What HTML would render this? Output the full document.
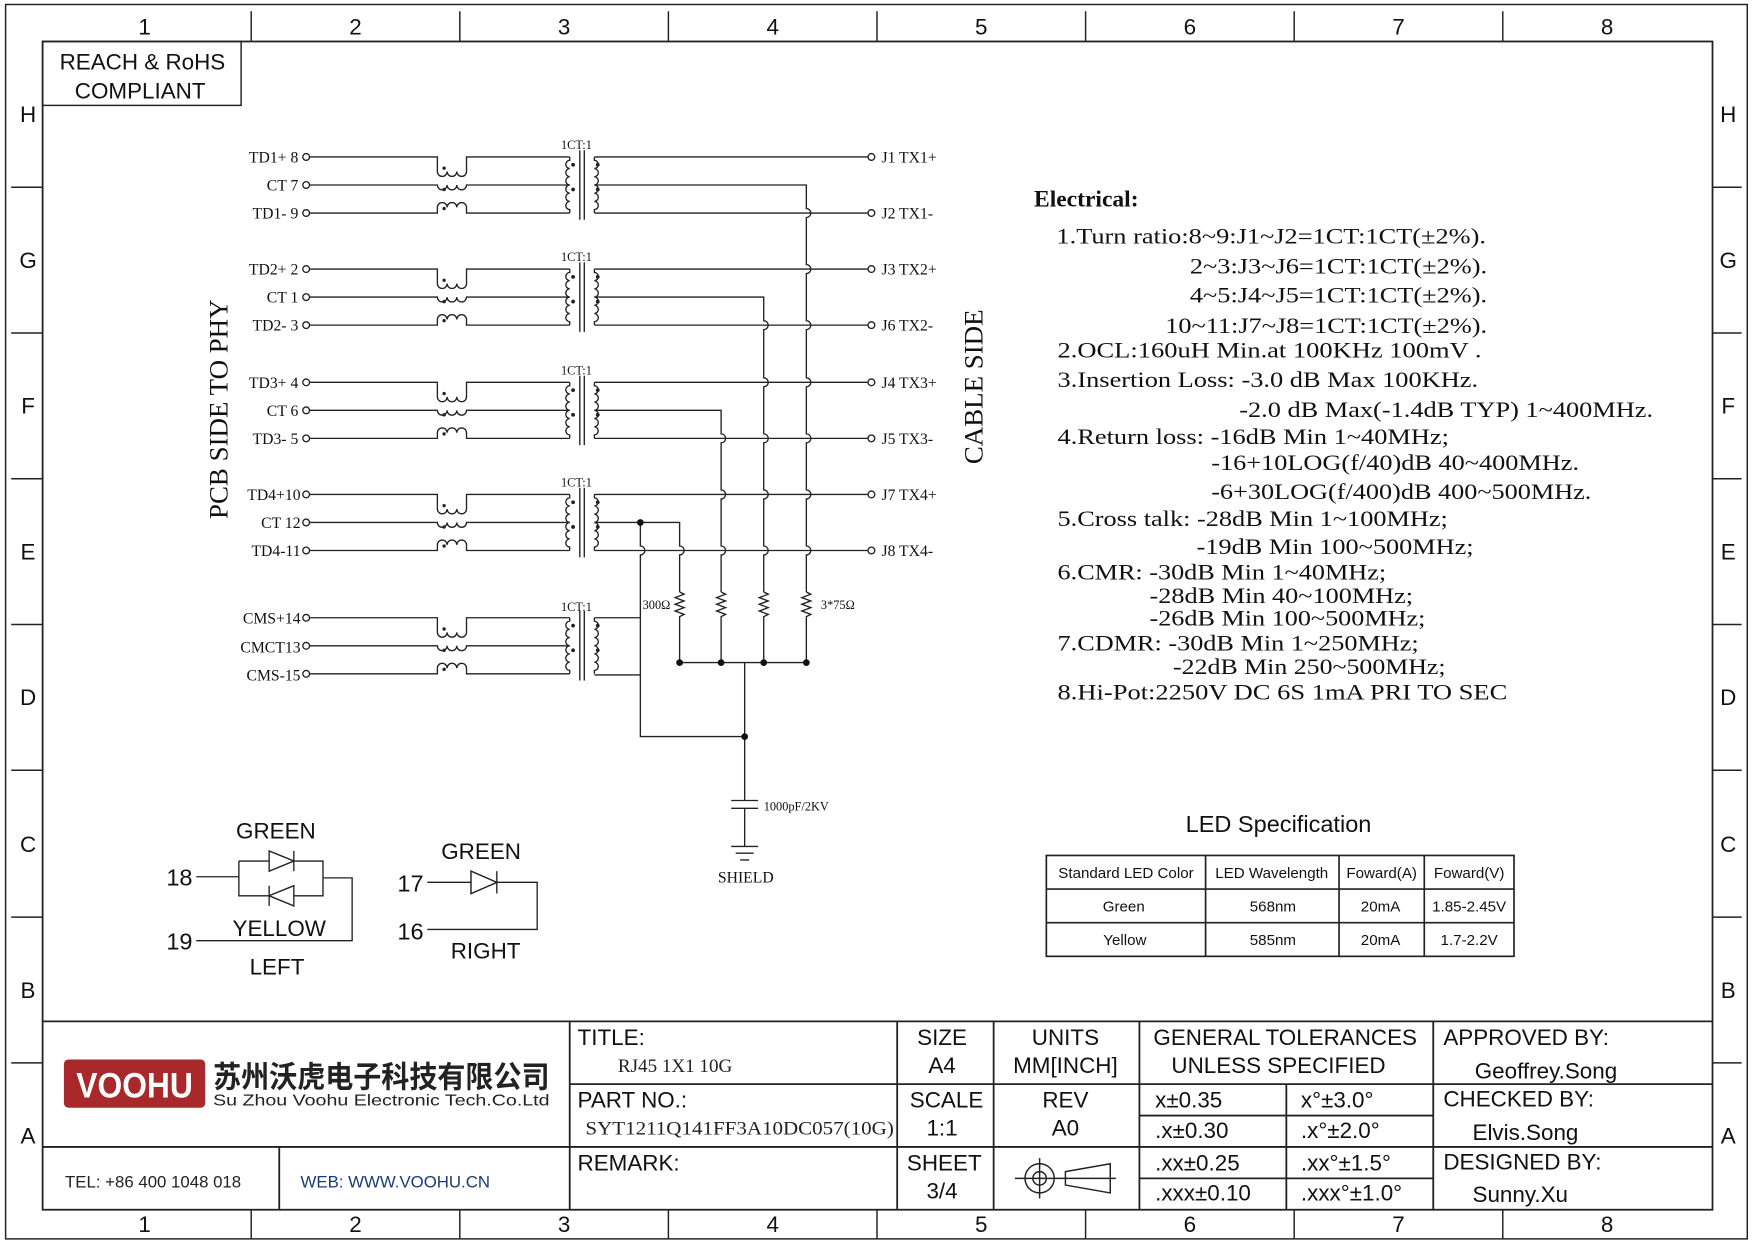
<!DOCTYPE html>
<html><head><meta charset="utf-8"><style>
html,body{margin:0;padding:0;background:#fff;}
svg{display:block}
.s{font-family:"Liberation Sans",sans-serif;}
.r{font-family:"Liberation Serif",serif;}
</style></head><body>
<svg width="1754" height="1240" viewBox="0 0 1564 1106" preserveAspectRatio="none" xmlns="http://www.w3.org/2000/svg">
<rect width="1564" height="1106" fill="#fff"/>
<g fill="none" stroke="#222" stroke-width="1.3">
<rect x="5" y="4" width="1553" height="1101"/>
<rect x="38" y="37" width="1489" height="1042" stroke-width="1.6"/>
<path d="M224 10V37M410 10V37M596 10V37M782 10V37M968 10V37M1154 10V37M1340 10V37"/>
<path d="M224 1079V1105M410 1079V1105M596 1079V1105M782 1079V1105M968 1079V1105M1154 1079V1105M1340 1079V1105"/>
<path d="M10 167H38M10 297H38M10 427H38M10 557H38M10 687H38M10 818H38M10 948H38"/>
<path d="M1527 167H1553M1527 297H1553M1527 427H1553M1527 557H1553M1527 687H1553M1527 818H1553M1527 948H1553"/>
<rect x="38" y="37" width="177" height="57"/>
<!-- title block -->
<path d="M38 911H1527M508 967H1527M38 1023H1527M508 911V1079M800 911V1079M886 911V1079M1016 911V1079M1278 911V1079M1147 967V1079M1016 995H1278M1016 1051H1278M249 1023V1079" stroke-width="1.6"/>
</g>
<g class="s" font-size="20" text-anchor="middle" fill="#111">
<text x="129" y="31">1</text><text x="317" y="31">2</text><text x="503" y="31">3</text><text x="689" y="31">4</text><text x="875" y="31">5</text><text x="1061" y="31">6</text><text x="1247" y="31">7</text><text x="1433" y="31">8</text>
<text x="129" y="1099">1</text><text x="317" y="1099">2</text><text x="503" y="1099">3</text><text x="689" y="1099">4</text><text x="875" y="1099">5</text><text x="1061" y="1099">6</text><text x="1247" y="1099">7</text><text x="1433" y="1099">8</text>
<text x="25" y="109">H</text><text x="25" y="239">G</text><text x="25" y="369">F</text><text x="25" y="499">E</text><text x="25" y="629">D</text><text x="25" y="760">C</text><text x="25" y="890">B</text><text x="25" y="1020">A</text>
<text x="1541" y="109">H</text><text x="1541" y="239">G</text><text x="1541" y="369">F</text><text x="1541" y="499">E</text><text x="1541" y="629">D</text><text x="1541" y="760">C</text><text x="1541" y="890">B</text><text x="1541" y="1020">A</text>
<text x="127" y="62">REACH &amp; RoHS</text><text x="125" y="88">COMPLIANT</text>
</g>

<!-- schematic -->
<g fill="none" stroke="#222" stroke-width="1.2">
<!-- left pins & chokes; groups at 140,240,341,441,551 -->
<g id="grp">
<path d="M276 140H390V153a4.33 4.33 0 0 0 8.66 0a4.33 4.33 0 0 0 8.66 0a4.33 4.33 0 0 0 8.66 0V140H508"/>
<path d="M276 165H390a4.33 4.33 0 0 0 8.66 0a4.33 4.33 0 0 0 8.66 0a4.33 4.33 0 0 0 8.66 0H508"/>
<path d="M276 190H390V185a4.33 4.33 0 0 1 8.66 0a4.33 4.33 0 0 1 8.66 0a4.33 4.33 0 0 1 8.66 0V190H508"/>
<circle cx="273" cy="140" r="3"/><circle cx="273" cy="165" r="3"/><circle cx="273" cy="190" r="3"/>
<path d="M508 140V143a3.67 3.67 0 0 0 0 7.33a3.67 3.67 0 0 0 0 7.33a3.67 3.67 0 0 0 0 7.33a3.67 3.67 0 0 0 0 7.33a3.67 3.67 0 0 0 0 7.33a3.67 3.67 0 0 0 0 7.33V190"/>
<path d="M517 134V196M521 134V196"/>
<path d="M530 140V143a3.67 3.67 0 0 1 0 7.33a3.67 3.67 0 0 1 0 7.33a3.67 3.67 0 0 1 0 7.33a3.67 3.67 0 0 1 0 7.33a3.67 3.67 0 0 1 0 7.33a3.67 3.67 0 0 1 0 7.33V190"/>
<g fill="#222" stroke="none"><circle cx="511" cy="147" r="1.7"/><circle cx="511" cy="169" r="1.7"/><circle cx="533" cy="147" r="1.7"/><circle cx="533" cy="169" r="1.7"/><circle cx="396" cy="150" r="1.5"/><circle cx="396" cy="169" r="1.5"/><circle cx="396" cy="186" r="1.5"/></g>
</g>
<use href="#grp" y="100"/><use href="#grp" y="201"/><use href="#grp" y="301"/><use href="#grp" y="411"/>
<!-- secondaries to right pins -->
<path d="M530 140H774M530 190H774M530 240H774M530 290H774M530 341H774M530 391H774M530 441H774M530 491H774"/>
<g><circle cx="777" cy="140" r="3"/><circle cx="777" cy="190" r="3"/><circle cx="777" cy="240" r="3"/><circle cx="777" cy="290" r="3"/><circle cx="777" cy="341" r="3"/><circle cx="777" cy="391" r="3"/><circle cx="777" cy="441" r="3"/><circle cx="777" cy="491" r="3"/></g>
<!-- CT lines -->
<path d="M530 165H719V186a4 4 0 0 1 0 8V236a4 4 0 0 1 0 8V286a4 4 0 0 1 0 8V337a4 4 0 0 1 0 8V387a4 4 0 0 1 0 8V437a4 4 0 0 1 0 8V487a4 4 0 0 1 0 8V528"/>
<path d="M530 265H681V286a4 4 0 0 1 0 8V337a4 4 0 0 1 0 8V387a4 4 0 0 1 0 8V437a4 4 0 0 1 0 8V487a4 4 0 0 1 0 8V528"/>
<path d="M530 366H643V387a4 4 0 0 1 0 8V437a4 4 0 0 1 0 8V487a4 4 0 0 1 0 8V528"/>
<path d="M530 466H606V487a4 4 0 0 1 0 8V528"/>
<path d="M571 466V487a4 4 0 0 1 0 8V657H664M530 551H571M530 602H571"/>
<!-- resistors -->
<path d="M606 528l4 2l-8 3l8 3l-8 3l8 3l-8 3l8 3l-4 2V591"/>
<path d="M643 528l4 2l-8 3l8 3l-8 3l8 3l-8 3l8 3l-4 2V591"/>
<path d="M681 528l4 2l-8 3l8 3l-8 3l8 3l-8 3l8 3l-4 2V591"/>
<path d="M719 528l4 2l-8 3l8 3l-8 3l8 3l-8 3l8 3l-4 2V591"/>
<path d="M606 591H719M664 591V714M652 714H676M652 721H676M664 721V755M652 755H676M656 761H672M660 767H668"/>
<g fill="#111" stroke="none"><circle cx="606" cy="591" r="3"/><circle cx="643" cy="591" r="3"/><circle cx="681" cy="591" r="3"/><circle cx="719" cy="591" r="3"/><circle cx="664" cy="657" r="3"/><circle cx="571" cy="466" r="3"/></g>
</g>
<g class="r" font-size="14" fill="#111">
<g text-anchor="end">
<text x="266" y="145">TD1+ 8</text><text x="266" y="170">CT  7</text><text x="266" y="195">TD1- 9</text>
<text x="266" y="245">TD2+ 2</text><text x="266" y="270">CT  1</text><text x="266" y="295">TD2- 3</text>
<text x="266" y="346">TD3+ 4</text><text x="266" y="371">CT 6</text><text x="266" y="396">TD3- 5</text>
<text x="268" y="446">TD4+10</text><text x="268" y="471">CT 12</text><text x="268" y="496">TD4-11</text>
<text x="268" y="556">CMS+14</text><text x="268" y="582">CMCT13</text><text x="268" y="607">CMS-15</text>
</g>
<text x="786" y="145">J1  TX1+</text><text x="786" y="195">J2  TX1-</text><text x="786" y="245">J3  TX2+</text><text x="786" y="295">J6  TX2-</text>
<text x="786" y="346">J4  TX3+</text><text x="786" y="396">J5  TX3-</text><text x="786" y="446">J7  TX4+</text><text x="786" y="496">J8  TX4-</text>
<g font-size="11" text-anchor="middle"><text x="514" y="133">1CT:1</text><text x="514" y="233">1CT:1</text><text x="514" y="334">1CT:1</text><text x="514" y="434">1CT:1</text><text x="514" y="545">1CT:1</text></g>
<text x="573" y="543" font-size="11">300Ω</text><text x="732" y="543" font-size="11">3*75Ω</text>
<text x="681" y="723" font-size="11">1000pF/2KV</text>
<text x="665" y="787" font-size="14" text-anchor="middle">SHIELD</text>
<text transform="translate(203,365) rotate(-90)" font-size="24" text-anchor="middle">PCB SIDE TO PHY</text>
<text transform="translate(876,345) rotate(-90)" font-size="24" text-anchor="middle">CABLE SIDE</text>
</g>

<!-- Electrical -->
<g class="r" font-size="20" fill="#111">
<text x="922" y="184" font-weight="bold" font-size="21">Electrical:</text>
<text x="942" y="217" textLength="383" lengthAdjust="spacingAndGlyphs">1.Turn ratio:8~9:J1~J2=1CT:1CT(±2%).</text>
<text x="1061" y="244" textLength="265" lengthAdjust="spacingAndGlyphs">2~3:J3~J6=1CT:1CT(±2%).</text>
<text x="1061" y="270" textLength="265" lengthAdjust="spacingAndGlyphs">4~5:J4~J5=1CT:1CT(±2%).</text>
<text x="1039" y="297" textLength="287" lengthAdjust="spacingAndGlyphs">10~11:J7~J8=1CT:1CT(±2%).</text>
<text x="943" y="319" textLength="378" lengthAdjust="spacingAndGlyphs">2.OCL:160uH Min.at 100KHz 100mV .</text>
<text x="943" y="345" textLength="375" lengthAdjust="spacingAndGlyphs">3.Insertion Loss: -3.0 dB Max 100KHz.</text>
<text x="1105" y="372" textLength="369" lengthAdjust="spacingAndGlyphs">-2.0 dB Max(-1.4dB TYP) 1~400MHz.</text>
<text x="943" y="396" textLength="349" lengthAdjust="spacingAndGlyphs">4.Return loss: -16dB Min 1~40MHz;</text>
<text x="1080" y="419" textLength="328" lengthAdjust="spacingAndGlyphs">-16+10LOG(f/40)dB 40~400MHz.</text>
<text x="1080" y="445" textLength="339" lengthAdjust="spacingAndGlyphs">-6+30LOG(f/400)dB 400~500MHz.</text>
<text x="943" y="469" textLength="348" lengthAdjust="spacingAndGlyphs">5.Cross talk: -28dB Min 1~100MHz;</text>
<text x="1067" y="494" textLength="247" lengthAdjust="spacingAndGlyphs">-19dB Min 100~500MHz;</text>
<text x="943" y="517" textLength="293" lengthAdjust="spacingAndGlyphs">6.CMR: -30dB Min 1~40MHz;</text>
<text x="1025" y="538" textLength="235" lengthAdjust="spacingAndGlyphs">-28dB Min 40~100MHz;</text>
<text x="1025" y="558" textLength="246" lengthAdjust="spacingAndGlyphs">-26dB Min 100~500MHz;</text>
<text x="943" y="580" textLength="322" lengthAdjust="spacingAndGlyphs">7.CDMR: -30dB Min 1~250MHz;</text>
<text x="1046" y="601" textLength="243" lengthAdjust="spacingAndGlyphs">-22dB Min 250~500MHz;</text>
<text x="943" y="624" textLength="401" lengthAdjust="spacingAndGlyphs">8.Hi-Pot:2250V DC 6S 1mA PRI TO SEC</text>
</g>

<!-- LED table -->
<text class="s" x="1140" y="742" font-size="21" text-anchor="middle" fill="#111">LED Specification</text>
<g fill="none" stroke="#222" stroke-width="1.5">
<rect x="933" y="763" width="417" height="90"/>
<path d="M933 793H1350M933 823H1350M1075 763V853M1194 763V853M1270 763V853"/>
</g>
<g class="s" font-size="13.5" fill="#111" text-anchor="middle">
<text x="1004" y="783">Standard LED Color</text><text x="1134" y="783">LED Wavelength</text><text x="1232" y="783">Foward(A)</text><text x="1310" y="783">Foward(V)</text>
<text x="1002" y="813">Green</text><text x="1135" y="813">568nm</text><text x="1231" y="813">20mA</text><text x="1310" y="813">1.85-2.45V</text>
<text x="1003" y="843">Yellow</text><text x="1135" y="843">585nm</text><text x="1231" y="843">20mA</text><text x="1310" y="843">1.7-2.2V</text>
</g>

<!-- LEDs -->
<g fill="none" stroke="#222" stroke-width="1.2">
<path d="M175 782H213M213 768V799H288V768H213M288 783H314V839H175"/>
<path d="M240 759V777L262 768ZM262 759V777"/>
<path d="M262 790V808L240 799ZM240 790V808"/>
<path d="M381 787H479V829H381"/>
<path d="M420 777V797L443 787ZM443 777V797"/>
</g>
<path d="M240 759V777L262 768Z M262 790V808L240 799Z M420 777V797L443 787Z" fill="#fff" stroke="#222" stroke-width="1.2"/>
<g class="s" font-size="20" fill="#111" text-anchor="middle">
<text x="246" y="748">GREEN</text><text x="249" y="835">YELLOW</text><text x="247" y="869">LEFT</text>
<text x="429" y="766">GREEN</text><text x="433" y="855">RIGHT</text>
<text x="160" y="790" font-size="21">18</text><text x="160" y="847" font-size="21">19</text>
<text x="366" y="795" font-size="21">17</text><text x="366" y="838" font-size="21">16</text>
</g>

<!-- title block content -->
<rect x="57" y="945" width="126" height="43" rx="4" fill="#a8282b"/>
<text class="s" x="120" y="979" font-size="31" font-weight="bold" fill="#fff" text-anchor="middle" textLength="104" lengthAdjust="spacingAndGlyphs">VOOHU</text>
<text x="190" y="970" font-family="'Liberation Sans','Noto Sans CJK SC',sans-serif" font-size="27" font-weight="bold" fill="#222" textLength="300" lengthAdjust="spacingAndGlyphs">苏州沃虎电子科技有限公司</text>
<text class="s" x="190" y="986" font-size="14" fill="#222" textLength="300" lengthAdjust="spacingAndGlyphs">Su Zhou Voohu Electronic Tech.Co.Ltd</text>
<text class="s" x="58" y="1059" font-size="15" fill="#222">TEL: +86 400 1048 018</text>
<text class="s" x="268" y="1059" font-size="15" fill="#1a3c78">WEB: WWW.VOOHU.CN</text>
<g class="s" font-size="20" fill="#111">
<text x="515" y="932">TITLE:</text>
<text x="515" y="988">PART NO.:</text>
<text x="515" y="1044">REMARK:</text>
<text x="1287" y="932">APPROVED BY:</text><text x="1315" y="962">Geoffrey.Song</text>
<text x="1287" y="987">CHECKED BY:</text><text x="1313" y="1017">Elvis.Song</text>
<text x="1287" y="1043">DESIGNED BY:</text><text x="1313" y="1072">Sunny.Xu</text>
<text x="1030" y="988">x±0.35</text><text x="1160" y="988">x°±3.0°</text>
<text x="1030" y="1015">.x±0.30</text><text x="1160" y="1015">.x°±2.0°</text>
<text x="1030" y="1044">.xx±0.25</text><text x="1160" y="1044">.xx°±1.5°</text>
<text x="1030" y="1071">.xxx±0.10</text><text x="1160" y="1071">.xxx°±1.0°</text>
<g text-anchor="middle">
<text x="840" y="932">SIZE</text><text x="840" y="957">A4</text>
<text x="950" y="932">UNITS</text><text x="950" y="957">MM[INCH]</text>
<text x="1146" y="932">GENERAL TOLERANCES</text><text x="1140" y="957">UNLESS SPECIFIED</text>
<text x="844" y="988">SCALE</text><text x="840" y="1013">1:1</text>
<text x="950" y="988">REV</text><text x="950" y="1013">A0</text>
<text x="842" y="1044">SHEET</text><text x="840" y="1069">3/4</text>
</g>
</g>
<g class="r" font-size="17" fill="#222">
<text x="551" y="956">RJ45  1X1  10G</text>
<text x="522" y="1012" textLength="275" lengthAdjust="spacingAndGlyphs">SYT1211Q141FF3A10DC057(10G)</text>
</g>
<g fill="none" stroke="#222" stroke-width="1.3">
<circle cx="927" cy="1051" r="13"/><circle cx="927" cy="1051" r="6"/>
<path d="M905 1051H995M927 1033V1069M950 1045L990 1038V1064L950 1057Z"/>
</g>
</svg>
</body></html>
